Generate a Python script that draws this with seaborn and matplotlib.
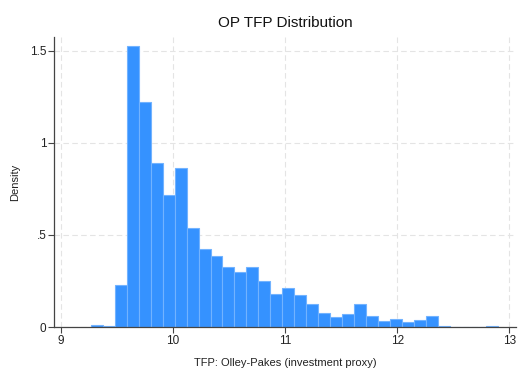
import matplotlib
matplotlib.use('Agg')
import matplotlib.pyplot as plt
import seaborn as sns
import numpy as np
import pandas as pd

# histogram bins (34 bins, width ~0.107)
bin_start = 9.265
bin_width = 0.1069
densities = [0.011, 0.007, 0.226, 1.527, 1.224, 0.888, 0.715, 0.861, 0.540, 0.422,
             0.388, 0.328, 0.296, 0.328, 0.248, 0.177, 0.210, 0.173, 0.123, 0.076,
             0.054, 0.070, 0.123, 0.058, 0.032, 0.043, 0.025, 0.038, 0.058, 0.007,
             0.0, 0.0, 0.0, 0.003]
x_ticks = [9, 10, 11, 12, 13]
y_ticks = [0, 0.5, 1, 1.5]
y_ticklabels = ["0", ".5", "1", "1.5"]

edges = bin_start + bin_width * np.arange(len(densities) + 1)
centers = (edges[:-1] + edges[1:]) / 2
df = pd.DataFrame({"tfp": centers, "density": densities})

sns.set_style("white")
plt.rcParams['font.family'] = ['Liberation Sans', 'DejaVu Sans']

fig = plt.figure(figsize=(5.28, 3.84), dpi=100)
ax = fig.add_axes([0.1023, 0.1484, 0.875, 0.7552])

sns.histplot(data=df, x="tfp", weights="density", bins=list(edges), stat="count", ax=ax,
             color="#3592ff", edgecolor="#72b3ff", linewidth=0.8, alpha=1)

ax.set_xlim(8.9375, 13.06)
ax.set_ylim(0, 1.574)
ax.set_xticks(x_ticks)
ax.set_yticks(y_ticks)
ax.set_yticklabels(y_ticklabels)
ax.grid(True, color="#e4e4e4", linestyle=(0, (5, 3)), linewidth=0.8)
ax.set_axisbelow(True)

for side in ["top", "right"]:
    ax.spines[side].set_visible(False)
for side in ["left", "bottom"]:
    ax.spines[side].set_color("#444444")
    ax.spines[side].set_linewidth(0.9)
ax.tick_params(axis="both", direction="out", length=4, width=0.8, color="#444444",
               labelsize=8.5, labelcolor="#222222", bottom=True, left=True)
ax.tick_params(axis="x", pad=1.5)
ax.tick_params(axis="y", pad=1.5)

ax.set_xlabel("TFP: Olley-Pakes (investment proxy)", fontsize=8, color="#222222", labelpad=8)
ax.set_ylabel("Density", fontsize=8, color="#222222", labelpad=7)
fig.text(0.54, 0.94, "OP TFP Distribution", fontsize=11, ha="center", va="center",
         color="#111111")

fig.savefig("out.png", dpi=100)
plt.close()
